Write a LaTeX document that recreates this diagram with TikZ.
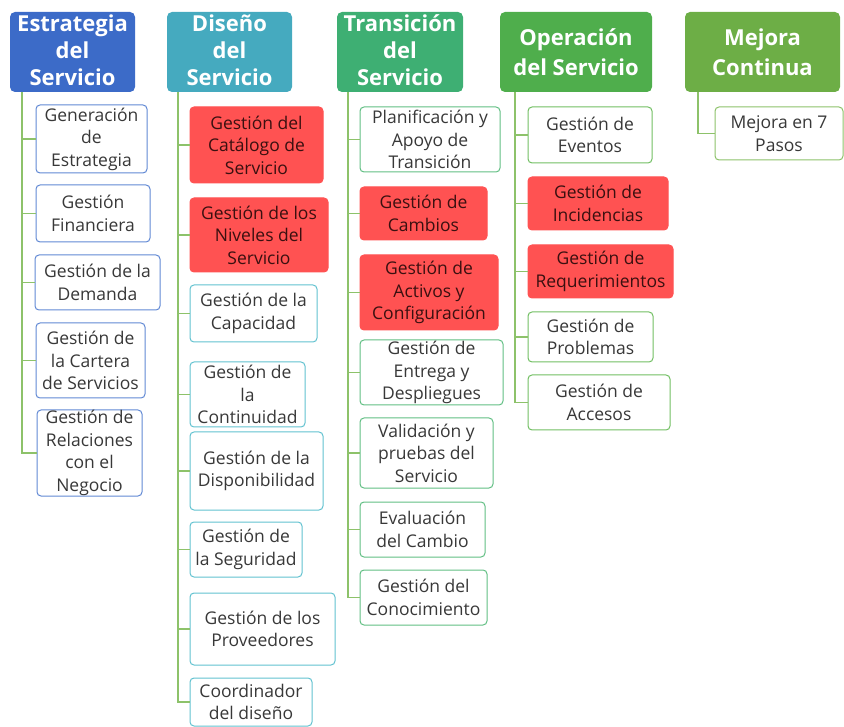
\documentclass[tikz,border=0pt]{standalone}
\usepackage{fontspec}
\setmainfont{Open Sans}
\definecolor{hblue}{HTML}{3C6BC8}
\definecolor{hteal}{HTML}{45AABF}
\definecolor{hsea}{HTML}{3EAF73}
\definecolor{hgreen}{HTML}{4FAE4C}
\definecolor{hlime}{HTML}{6DAE46}
\definecolor{oblue}{HTML}{6189D4}
\definecolor{oteal}{HTML}{62C2D0}
\definecolor{osea}{HTML}{62BF84}
\definecolor{ogreen}{HTML}{72BF63}
\definecolor{olime}{HTML}{8DC26A}
\definecolor{hotred}{HTML}{FF5252}
\definecolor{hottext}{HTML}{3A1010}
\definecolor{itemtext}{HTML}{383838}
\definecolor{linegreen}{HTML}{8DC26A}
\begin{document}
\begin{tikzpicture}[x=1pt,y=-1pt,
  hdr/.style={rounded corners=5pt, inner sep=0pt},
  htext/.style={text=white, font=\fontsize{22}{27}\selectfont\bfseries, align=center, inner sep=0pt},
  item/.style={draw, rounded corners=4pt, line width=1pt, fill=white, text=itemtext,
    font=\fontsize{17.5}{22.5}\selectfont, align=center, inner sep=0pt},
  hot/.style={fill=hotred, draw=hotred, text=hottext},
  conn/.style={draw=linegreen, line width=1.2pt},
]
\useasboundingbox (0,0) rectangle (844,727);

% phase headers
\node[hdr, fill=hblue,  minimum width=125pt, minimum height=80pt] (h1) at (72.5,52) {};
\node[hdr, fill=hteal,  minimum width=125pt, minimum height=80pt] (h2) at (229.5,52) {};
\node[hdr, fill=hsea,   minimum width=126pt, minimum height=80pt] (h3) at (400,52) {};
\node[hdr, fill=hgreen, minimum width=152pt, minimum height=80pt] (h4) at (576,52) {};
\node[hdr, fill=hlime,  minimum width=155pt, minimum height=80pt] (h5) at (762.5,52) {};

\begin{scope}
  \clip[rounded corners=5pt] (h1.north west) rectangle (h1.south east);
  \node[htext] (h1t) at ([yshift=2pt]h1.center) {Estrategia\\del\\Servicio};
\end{scope}
\begin{scope}
  \clip[rounded corners=5pt] (h2.north west) rectangle (h2.south east);
  \node[htext] (h2t) at ([yshift=2pt]h2.center) {Diseño\\del\\Servicio};
\end{scope}
\begin{scope}
  \clip[rounded corners=5pt] (h3.north west) rectangle (h3.south east);
  \node[htext] (h3t) at ([yshift=2pt]h3.center) {Transición\\del\\Servicio};
\end{scope}
\node[htext, font=\fontsize{22}{30}\selectfont\bfseries] (h4t) at (h4.center) {Operación\\del Servicio};
\node[htext, font=\fontsize{22}{30}\selectfont\bfseries] (h5t) at (h5.center) {Mejora\\Continua};

% trunk coordinates below each header
\coordinate (t1) at (22,92);
\coordinate (t2) at (178,92);
\coordinate (t3) at (348,92);
\coordinate (t4) at (515,92);
\coordinate (t5) at (698,92);

% Estrategia del Servicio
\begin{scope}[every node/.append style={draw=oblue}]
\node[item, minimum width=111pt, minimum height=68pt] (a1) at (91.5,139) {Generación\\de\\Estrategia};
\node[item, minimum width=114pt, minimum height=57pt] (a2) at (93,213.5) {Gestión\\Financiera};
\node[item, minimum width=125pt, minimum height=55pt] (a3) at (97.5,282.5) {Gestión de la\\Demanda};
\node[item, minimum width=109pt, minimum height=75pt] (a4) at (90.5,360.5) {Gestión de\\la Cartera\\de Servicios};
\node[item, minimum width=105pt, minimum height=86pt] (a5) at (89.5,453) {Gestión de\\Relaciones\\con el\\Negocio};
\end{scope}

% Diseño del Servicio
\begin{scope}[every node/.append style={draw=oteal}]
\node[item, hot, minimum width=133pt, minimum height=76pt] (b1) at (256.5,145) {Gestión del\\Catálogo de\\Servicio};
\node[item, hot, minimum width=138pt, minimum height=74pt] (b2) at (259,235) {Gestión de los\\Niveles del\\Servicio};
\node[item, minimum width=127pt, minimum height=57pt] (b3) at (253.5,313.5) {Gestión de la\\Capacidad};
\node[item, minimum width=115pt, minimum height=65pt] (b4) at (247.5,394.5) {Gestión de\\la\\Continuidad};
\node[item, minimum width=133pt, minimum height=78pt] (b5) at (256.5,471) {Gestión de la\\Disponibilidad};
\node[item, minimum width=112pt, minimum height=55pt] (b6) at (246,549.5) {Gestión de\\la Seguridad};
\node[item, minimum width=145pt, minimum height=72pt] (b7) at (262.5,629) {Gestión de los\\Proveedores};
\node[item, minimum width=122pt, minimum height=48pt] (b8) at (251,702) {Coordinador\\del diseño};
\end{scope}

% Transición del Servicio
\begin{scope}[every node/.append style={draw=osea}]
\node[item, minimum width=140pt, minimum height=65pt] (c1) at (430,139.5) {Planificación y\\Apoyo de\\Transición};
\node[item, hot, minimum width=127pt, minimum height=53pt] (c2) at (423.5,213.5) {Gestión de\\Cambios};
\node[item, hot, minimum width=138pt, minimum height=75pt] (c3) at (429,292.5) {Gestión de\\Activos y\\Configuración};
\node[item, minimum width=143pt, minimum height=65pt] (c4) at (431.5,372.5) {Gestión de\\Entrega y\\Despliegues};
\node[item, minimum width=133pt, minimum height=70pt] (c5) at (426.5,453) {Validación y\\pruebas del\\Servicio};
\node[item, minimum width=125pt, minimum height=55pt] (c6) at (422.5,529.5) {Evaluación\\del Cambio};
\node[item, minimum width=127pt, minimum height=55pt] (c7) at (423.5,597.5) {Gestión del\\Conocimiento};
\end{scope}

% Operación del Servicio
\begin{scope}[every node/.append style={draw=ogreen}]
\node[item, minimum width=124pt, minimum height=56pt] (d1) at (590,135) {Gestión de\\Eventos};
\node[item, hot, minimum width=140pt, minimum height=53pt] (d2) at (598,203.5) {Gestión de\\Incidencias};
\node[item, hot, minimum width=145pt, minimum height=53pt] (d3) at (600.5,271.5) {Gestión de\\Requerimientos};
\node[item, minimum width=125pt, minimum height=50pt] (d4) at (590.5,337) {Gestión de\\Problemas};
\node[item, minimum width=142pt, minimum height=55pt] (d5) at (599,402.5) {Gestión de\\Accesos};
\end{scope}

% Mejora Continua
\node[item, draw=olime, minimum width=128pt, minimum height=53pt] (e1) at (779,133.5) {Mejora en 7\\Pasos};

% connectors: trunk down from each header, one branch per item
\draw[conn] (t1) |- (a5.west);
\foreach \n in {a1,a2,a3,a4} \draw[conn] (\n.west) -- (\n.west -| t1);
\draw[conn] (t2) |- (b8.west);
\foreach \n in {b1,b2,b3,b4,b5,b6,b7} \draw[conn] (\n.west) -- (\n.west -| t2);
\draw[conn] (t3) |- (c7.west);
\foreach \n in {c1,c2,c3,c4,c5,c6} \draw[conn] (\n.west) -- (\n.west -| t3);
\draw[conn] (t4) |- (d5.west);
\foreach \n in {d1,d2,d3,d4} \draw[conn] (\n.west) -- (\n.west -| t4);
\draw[conn] (t5) |- (e1.west);
\end{tikzpicture}
\end{document}
